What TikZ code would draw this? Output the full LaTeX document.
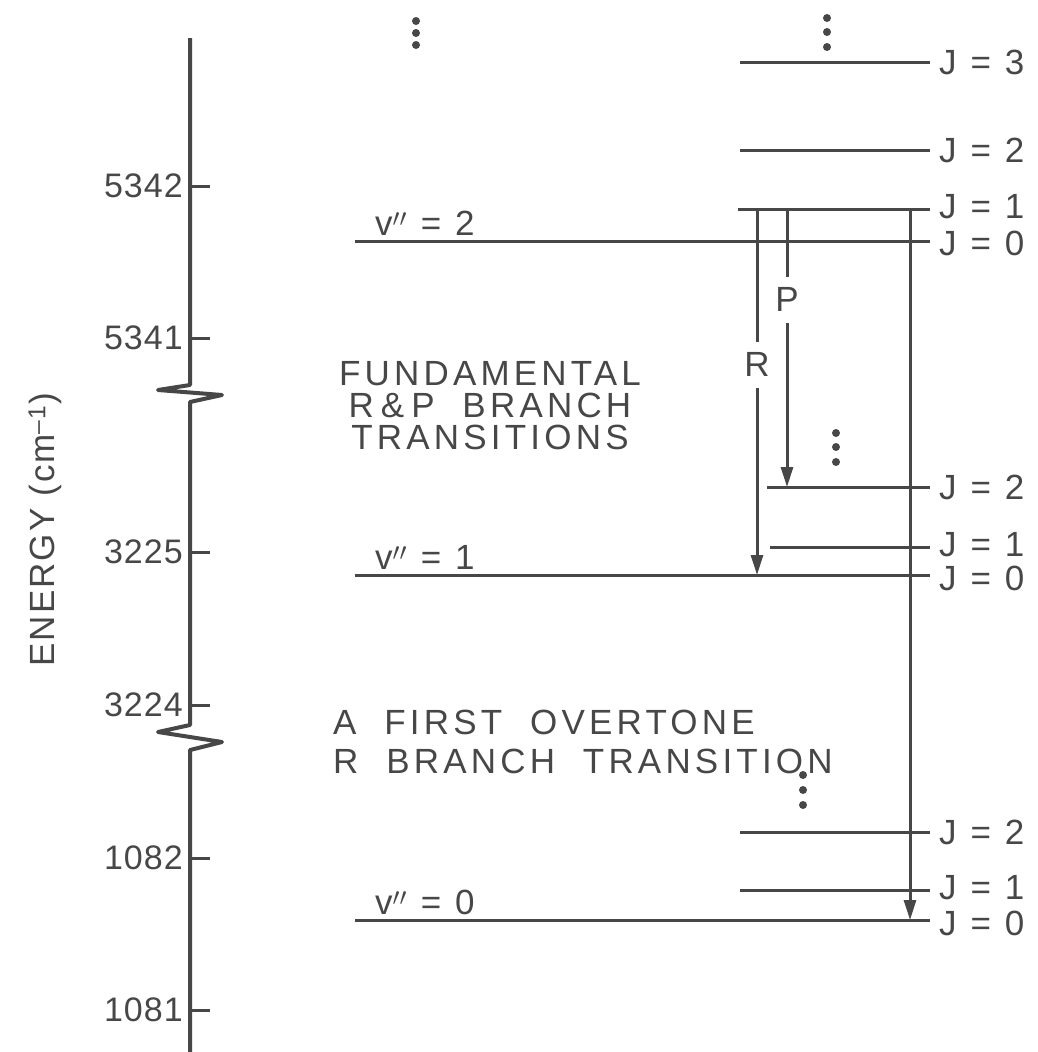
\documentclass[tikz,border=0pt]{standalone}
\usepackage{fontspec}
\setmainfont{Liberation Sans}[LetterSpace=12]
\usetikzlibrary{arrows.meta}
\definecolor{ink}{gray}{0.28}
\tikzset{lvl/.style={draw=ink, line width=3pt},
  axis/.style={draw=ink, line width=4pt, line join=round},
  lbl/.style={font=\fontsize{35}{40}\selectfont, text=ink, inner sep=0pt},
  tlbl/.style={lbl, anchor=east, font=\fontsize{34}{40}\selectfont\addfontfeature{LetterSpace=3}},
  jlbl/.style={lbl, anchor=west, inner xsep=9pt},
  gap/.style={lbl, fill=white, inner ysep=11pt, inner xsep=3pt}}

\begin{document}
\begin{tikzpicture}[x=1pt, y=-1pt, >={Triangle[length=20pt, width=12pt]}]
  \useasboundingbox (0,0) rectangle (1038,1052);
  % energy axis with its two breaks
  \draw[axis] (190,38) -- (190,385) -- (158,390) -- (222,395) -- (190,402)
    -- (190,725) -- (158,732) -- (222,742) -- (190,750) -- (190,1052);
  \foreach \yy/\val in {186/5342, 338/5341, 552/3225, 705/3224, 858/1082, 1010/1081} {
    \draw[axis, line width=3pt] (190,\yy) -- (210,\yy);
    \node[tlbl] (t\val) at (183,\yy) {\val};
  }
  \node[lbl, rotate=90, font=\fontsize{35}{40}\selectfont\addfontfeature{LetterSpace=6}]
    (elab) at (45,530) {ENERGY (cm\textsuperscript{–1})};
  % rotational labels
  \node[jlbl] (a3) at (930,62)  {J = 3};
  \node[jlbl] (a2) at (930,150) {J = 2};
  \node[jlbl] (a1) at (930,207) {J = 1};
  \node[jlbl] (a0) at (930,243) {J = 0};
  \node[jlbl] (b2) at (930,487) {J = 2};
  \node[jlbl] (b1) at (930,545) {J = 1};
  \node[jlbl] (b0) at (930,578) {J = 0};
  \node[jlbl] (c2) at (930,832) {J = 2};
  \node[jlbl] (c1) at (930,888) {J = 1};
  \node[jlbl] (c0) at (930,923) {J = 0};
  % levels
  \draw[lvl] (740,62)  -- (a3.west);
  \draw[lvl] (740,150) -- (a2.west);
  \draw[lvl] (738,209) -- (930,209);
  \draw[lvl] (355,241) -- (930,241);
  \draw[lvl] (767,487) -- (b2.west);
  \draw[lvl] (770,547) -- (930,547);
  \draw[lvl] (355,575) -- (930,575);
  \draw[lvl] (740,832) -- (c2.west);
  \draw[lvl] (740,890) -- (930,890);
  \draw[lvl] (355,920) -- (930,920);
  \node[lbl, anchor=west] (v2) at (375,223) {v$''$ = 2};
  \node[lbl, anchor=west] (v1) at (375,557) {v$''$ = 1};
  \node[lbl, anchor=west] (v0) at (375,902) {v$''$ = 0};
  % more levels above
  \foreach \yy in {21,33,45} \fill[ink] (416,\yy) circle (4);
  \foreach \yy in {18,32,47} \fill[ink] (827,\yy) circle (4);
  \foreach \yy in {433,447,462} \fill[ink] (836,\yy) circle (4);
  \foreach \yy in {775,790,805} \fill[ink] (803,\yy) circle (4);
  % transitions
  \coordinate (r2) at (757,209);
  \coordinate (r1) at (757,575);
  \coordinate (p2) at (787,209);
  \coordinate (p1) at (787,487);
  \coordinate (o2) at (910,209);
  \coordinate (o0) at (910,920);
  \draw[lvl, ->] (r2) -- node[gap, pos=0.426] {R} (r1);
  \draw[lvl, ->] (p2) -- node[gap, pos=0.327] {P} (p1);
  \draw[lvl, ->] (o2) -- (o0);
  \node[lbl, align=center, font=\fontsize{35}{32}\selectfont] (fund) at (490,406)
    {FUNDAMENTAL\\R\hspace{7pt}\&\hspace{7pt}P\ \ BRANCH\\TRANSITIONS};
  \node[lbl, align=left, anchor=west, font=\fontsize{35}{39}\selectfont] (ovt) at (333,742)
    {A\ \ FIRST\ \ OVERTONE\\R\ \ BRANCH\ \ TRANSITION};
\end{tikzpicture}
\end{document}
